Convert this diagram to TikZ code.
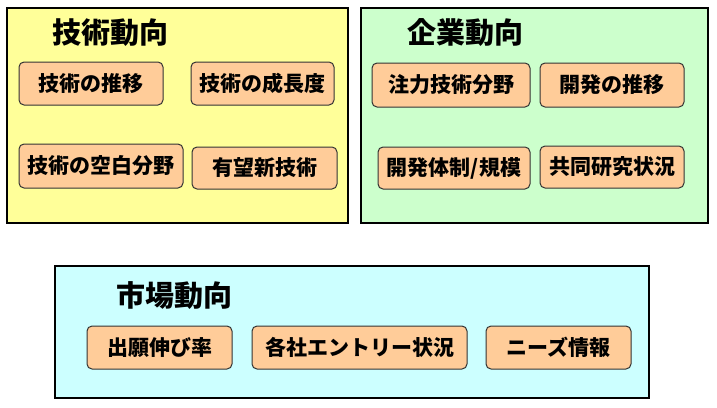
\documentclass[tikz,border=0pt]{standalone}
\usepackage{fontspec}
\newfontfamily\jpfont{Noto Sans CJK JP}
\definecolor{paneyellow}{HTML}{FFFF99}
\definecolor{panegreen}{HTML}{CCFFCC}
\definecolor{panecyan}{HTML}{CCFFFF}
\definecolor{itemfill}{HTML}{FFCC99}
\definecolor{itemline}{HTML}{333333}
\begin{document}
\begin{tikzpicture}[x=1pt,y=-1pt,
  panelst/.style={draw=black,line width=1.3pt},
  titlest/.style={inner sep=0pt,font=\fontsize{29}{32}\selectfont\bfseries\jpfont},
  itemst/.style={draw=itemline,fill=itemfill,line width=1pt,rounded corners=5pt,
     minimum height=43pt,inner sep=0pt,font=\fontsize{21}{24}\selectfont\bfseries\jpfont}]
\useasboundingbox (0,0) rectangle (717,407);
\fill[white] (0,0) rectangle (717,407);
% panels
\draw[panelst,fill=paneyellow] (7,8) rectangle (348,223);
\draw[panelst,fill=panegreen] (361,8) rectangle (708,223);
\draw[panelst,fill=panecyan] (55,266) rectangle (649,398);
% titles
\node[titlest] (t1) at (110,33) {技術動向};
\node[titlest] (t2) at (465,33) {企業動向};
\node[titlest] (t3) at (174,296) {市場動向};
% panel 1 items
\node[itemst,minimum width=144pt] (a1) at (91,83.5) {技術の推移};
\node[itemst,minimum width=143pt] (a2) at (262.5,83.5) {技術の成長度};
\node[itemst,minimum width=164pt,minimum height=44pt] (a3) at (101,166) {技術の空白分野};
\node[itemst,minimum width=145pt,minimum height=42pt] (a4) at (264.5,168) {有望新技術};
% panel 2 items
\node[itemst,minimum width=158pt,minimum height=44pt] (b1) at (451,85) {注力技術分野};
\node[itemst,minimum width=144pt,minimum height=44pt] (b2) at (612,85) {開発の推移};
\node[itemst,minimum width=152pt,minimum height=42pt] (b3) at (454,168) {開発体制/規模};
\node[itemst,minimum width=144pt,minimum height=42pt] (b4) at (612,167) {共同研究状況};
% panel 3 items
\node[itemst,minimum width=145pt] (c1) at (159.5,347.5) {出願伸び率};
\node[itemst,minimum width=215pt] (c2) at (359.5,347.5) {各社エントリー状況};
\node[itemst,minimum width=145pt] (c3) at (558.5,347.5) {ニーズ情報};
\end{tikzpicture}
\end{document}
